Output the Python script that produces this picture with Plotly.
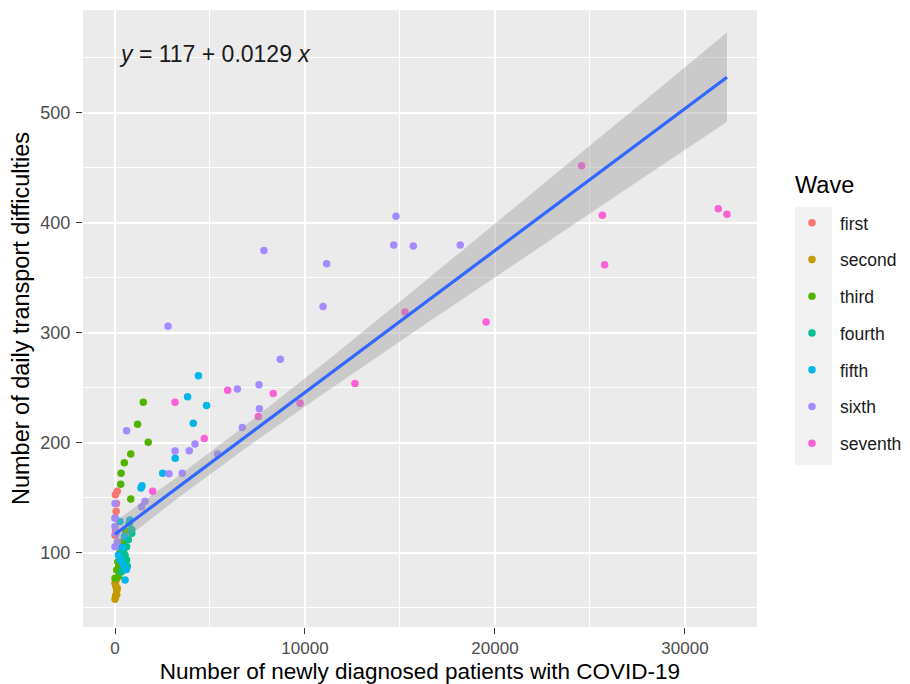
import numpy as np
import plotly.graph_objects as go

# ---- data ----
waves = ["first", "second", "third", "fourth", "fifth", "sixth", "seventh"]
colors = ["#F8766D", "#C49A00", "#53B400", "#00C094", "#00B6EB", "#A58AFF", "#FB61D7"]

first_x = [120, 20, 60, 10, 30, 0, 80]
first_y = [156, 153, 138, 132, 120, 116, 145]

second_x = [0, 90, 90, 40, 0, 60, 120, 30]
second_y = [58, 62, 66, 70, 72.5, 75, 68, 61]

third_x = [1490, 1190, 1750, 830, 490, 320, 300, 830, 180, 90, 0, 150, 250, 400, 550, 200]
third_y = [237, 217, 200.6, 190, 182, 172.5, 162.5, 149, 78.5, 84.5, 77, 92, 100, 110, 120, 88]

fourth_x = [880, 880, 700, 610, 530, 610, 350, 750, 450, 300, 650]
fourth_y = [118, 121, 112, 105.7, 98, 93.6, 83, 127, 102, 95, 88]

fifth_x = [4390, 3820, 4820, 4120, 3170, 2510, 1370, 790, 260, 180, 260, 440, 530, 600, 350, 500, 1420]
fifth_y = [261, 242, 234, 218, 186, 172.5, 159, 130, 128.5, 98, 93.6, 89, 75.5, 85, 105, 115, 161]

sixth_x = [14790, 14670, 15700, 18170, 11140, 10950, 7840, 2790, 8700, 6440, 7580,
           7600, 6700, 4210, 3910, 3160, 2840, 3540, 610, 1580, 1400, 0, 0, 0, 0,
           60, 120, 5400]
sixth_y = [406, 380, 379, 380, 363, 324, 375, 306, 276, 249, 253,
           231, 214, 199, 193, 192.7, 172, 172.5, 211, 147, 142, 145, 131.5, 124, 105.7,
           118, 110, 190]

seventh_x = [24560, 25650, 25770, 31750, 32210, 19530, 15260, 12630, 9740, 8330,
             5930, 7540, 4700, 3160, 1980]
seventh_y = [452, 407, 362, 413, 408, 310, 319, 254, 236, 245,
             248, 224, 204, 237, 156]

series_x = [first_x, second_x, third_x, fourth_x, fifth_x, sixth_x, seventh_x]
series_y = [first_y, second_y, third_y, fourth_y, fifth_y, sixth_y, seventh_y]

# fitted line shown on the chart
INTERCEPT = 117
SLOPE = 0.0129

x_ticks = [0, 10000, 20000, 30000]
x_ticktext = ["0", "10000", "20000", "30000"]
y_ticks = [100, 200, 300, 400, 500]

FONT = "Liberation Sans, Arial, sans-serif"

fig = go.Figure()

for name, col, xs, ys in zip(waves, colors, series_x, series_y):
    fig.add_trace(go.Scatter(
        x=xs, y=ys, mode="markers", name=name, legendgroup=name,
        marker=dict(color=col, size=7.5, line=dict(width=0)),
    ))

# confidence band around the stated line, from residuals of all points
all_x = np.concatenate([np.asarray(v, float) for v in series_x])
all_y = np.concatenate([np.asarray(v, float) for v in series_y])
n = len(all_x)
resid = all_y - (INTERCEPT + SLOPE * all_x)
s = np.sqrt(np.sum(resid ** 2) / (n - 2))
xbar = all_x.mean()
sxx = np.sum((all_x - xbar) ** 2)
xs_line = np.linspace(all_x.min(), all_x.max(), 100)
fit = INTERCEPT + SLOPE * xs_line
se = s * np.sqrt(1.0 / n + (xs_line - xbar) ** 2 / sxx)
tval = 1.977
lower = fit - tval * se
upper = fit + tval * se

fig.add_trace(go.Scatter(x=xs_line, y=lower, mode="lines", line=dict(width=0),
                         showlegend=False, hoverinfo="skip"))
fig.add_trace(go.Scatter(x=xs_line, y=upper, mode="lines", line=dict(width=0),
                         fill="tonexty", fillcolor="rgba(153,153,153,0.4)",
                         showlegend=False, hoverinfo="skip"))
fig.add_trace(go.Scatter(x=xs_line, y=fit, mode="lines",
                         line=dict(color="#3366FF", width=3.2),
                         showlegend=False, hoverinfo="skip"))

fig.add_annotation(
    x=100, y=554, xref="x", yref="y", xanchor="left", yanchor="middle",
    text=f"<i>y</i> = {INTERCEPT:g} + {SLOPE:g} <i>x</i>",
    showarrow=False, font=dict(family=FONT, size=23, color="#1a1a1a"),
)

# legend title
fig.add_annotation(
    x=1.0534, y=0.7164, xref="paper", yref="paper", xanchor="left", yanchor="middle",
    text="Wave", showarrow=False, font=dict(family=FONT, size=23.5, color="black"),
)

# grey key column behind legend symbols
fig.add_shape(type="rect", xref="paper", yref="paper",
              x0=1.0564, x1=1.1113, y0=0.2626, y1=0.6807,
              fillcolor="#F2F2F2", line=dict(width=0), layer="below")

axis_common = dict(
    showline=False, zeroline=False, showgrid=True, gridcolor="white", gridwidth=1.7,
    ticks="outside", ticklen=6, tickwidth=1.3, tickcolor="#333333",
    tickfont=dict(family=FONT, size=18, color="#4D4D4D"),
)

fig.update_layout(
    width=920, height=676,
    margin=dict(l=75, r=171, t=2, b=57),
    paper_bgcolor="white", plot_bgcolor="#EBEBEB",
    font=dict(family=FONT),
    xaxis=dict(range=[-1684, 33790], tickvals=x_ticks, ticktext=x_ticktext,
               ticklabelstandoff=0,
               minor=dict(tickvals=[5000, 15000, 25000], showgrid=True,
                          gridcolor="white", gridwidth=0.9, ticklen=0),
               title=dict(text="Number of newly diagnosed patients with COVID-19",
                          font=dict(family=FONT, size=22.5, color="black"), standoff=7),
               **{**axis_common, "tickfont": dict(family=FONT, size=17, color="#4D4D4D")}),
    yaxis=dict(range=[32.7, 593.6], tickvals=y_ticks,
               ticklabelstandoff=2,
               minor=dict(tickvals=[50, 150, 250, 350, 450, 550], showgrid=True,
                          gridcolor="white", gridwidth=0.9, ticklen=0),
               title=dict(text="Number of daily transport difficulties",
                          font=dict(family=FONT, size=23.5, color="black"), standoff=5),
               **axis_common),
    legend=dict(
        font=dict(family=FONT, size=17.5, color="#1a1a1a"),
        x=1.040, xanchor="left", y=0.684, yanchor="top",
        bgcolor="rgba(0,0,0,0)", tracegroupgap=11, itemwidth=46,
    ),
)

fig.write_html("out.html")
